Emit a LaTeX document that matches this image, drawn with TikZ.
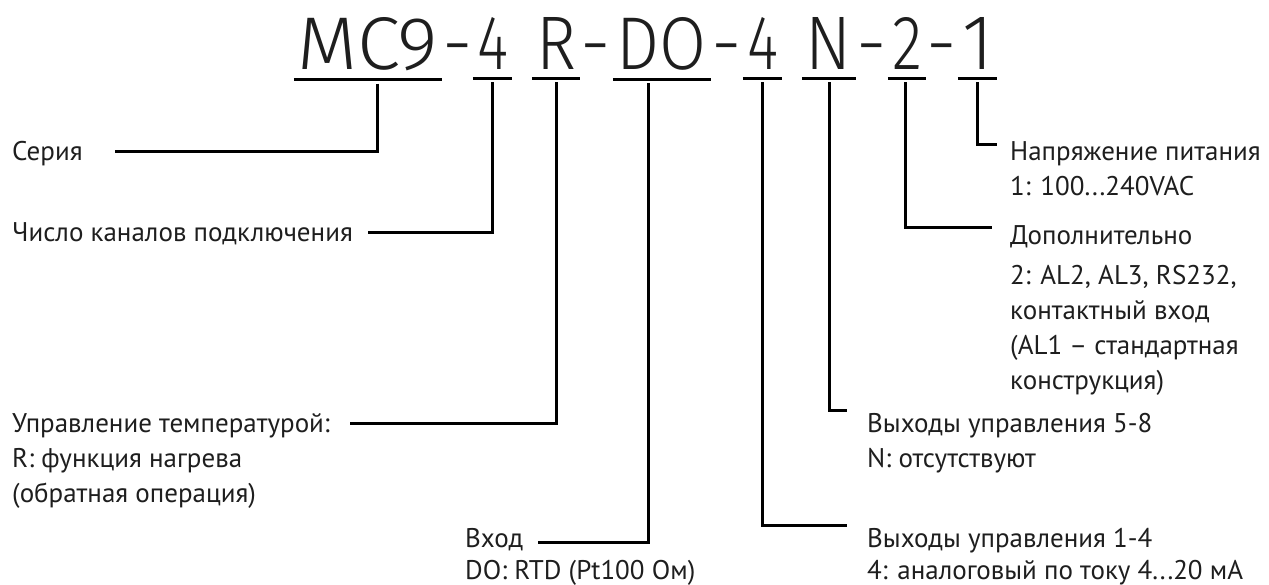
\documentclass[tikz,border=0pt]{standalone}
\usepackage{fontspec}
\setmainfont{PT Sans}
\newfontfamily\ttlfont{Fira Sans Light}
\definecolor{txt}{HTML}{1E1E1E}
\begin{document}
\begin{tikzpicture}[x=1pt,y=-1pt,
  conn/.style={line width=3pt, line join=miter, draw=black},
  uline/.style={line width=3pt, draw=black},
  ttl/.style={inner xsep=4pt, inner ysep=0pt, anchor=base, text=txt, font=\ttlfont},
  hy/.style={inner sep=0pt, anchor=base, text=txt, font=\ttlfont\fontsize{76}{76}\selectfont},
  lbl/.style={inner sep=0pt, anchor=base west, align=left, text=txt, font=\fontsize{27}{35}\selectfont}]
\useasboundingbox (0,0) rectangle (1269,585);

% title segments
\node[ttl] (t1) at (368,70)   {\resizebox{140pt}{52pt}{MC9}};
\node[hy]  (h1) at (458,70)   {-};
\node[ttl] (t2) at (492.5,70) {\resizebox{31pt}{52pt}{4}};
\node[ttl] (t3) at (556,70)   {\resizebox{40pt}{52pt}{R}};
\node[hy]  (h2) at (596,70)   {-};
\node[ttl] (t4) at (662,70)   {\resizebox{90pt}{52pt}{DO}};
\node[hy]  (h3) at (727,70)   {-};
\node[ttl] (t5) at (762.5,70) {\resizebox{31pt}{52pt}{4}};
\node[ttl] (t6) at (829,70)   {\resizebox{46pt}{52pt}{N}};
\node[hy]  (h4) at (872,70)   {-};
\node[ttl] (t7) at (907,70)   {\resizebox{30pt}{52pt}{2}};
\node[hy]  (h5) at (942,70)   {-};
\node[ttl] (t8) at (977.5,70) {\resizebox{31pt}{52pt}{1}};

\foreach \t in {t1,t2,t3,t4,t5,t6,t7,t8}
  \draw[uline] ([yshift=-8pt]\t.south west) -- ([yshift=-8pt]\t.south east);

% left labels (multi-line nodes: base = last line)
\node[lbl] (ser)  at (12,161) {Серия};
\node[lbl] (chis) at (12,242) {Число каналов подключения};
\node[lbl] (upr)  at (12,432) {Управление температурой:};
\node[lbl] (uprd) at ([yshift=-70pt]upr.base west) {R: функция нагрева\\(обратная операция)};
\node[lbl] (vhod) at (465,547) {Вход};
\node[lbl] (vhodd) at ([yshift=-32pt]vhod.base west) {DO: RTD (Pt100 Ом)};

% right labels
\node[lbl] (nap)  at (1010,161) {Напряжение питания};
\node[lbl] (napd) at ([yshift=-35pt]nap.base west) {1: 100...240VAC};
\node[lbl] (dop)  at (1010,245) {Дополнительно};
\node[lbl] (dopd) at ([yshift=-144pt]dop.base west) {2: AL2, AL3, RS232,\\контактный вход\\(AL1 – стандартная\\конструкция)};
\node[lbl] (v58)  at (867,432) {Выходы управления 5-8};
\node[lbl] (v58d) at ([yshift=-35pt]v58.base west) {N: отсутствуют};
\node[lbl] (v14)  at (867,547) {Выходы управления 1-4};
\node[lbl] (v14d) at ([yshift=-32pt]v14.base west) {4: аналоговый по току 4...20 мА};

% connectors
\draw[conn] ([xshift=9pt,yshift=-12pt]t1.south)  |- ([xshift=32pt,yshift=9pt]ser.base east);
\draw[conn] ([yshift=-12pt]t2.south)              |- ([xshift=15pt,yshift=9pt]chis.base east);
\draw[conn] ([yshift=-12pt]t3.south)              |- ([xshift=20pt,yshift=9pt]upr.base east);
\draw[conn] ([xshift=-14pt,yshift=-12pt]t4.south) |- ([xshift=15pt,yshift=5pt]vhod.base east);
\draw[conn] ([yshift=-12pt]t5.south)              |- ([xshift=-20pt,yshift=22pt]v14.base west);
\draw[conn] ([yshift=-12pt]t6.south)              |- ([xshift=-20pt,yshift=22pt]v58.base west);
\draw[conn] ([xshift=-2pt,yshift=-12pt]t7.south)  |- ([xshift=-18pt,yshift=17pt]dop.base west);
\draw[conn] ([yshift=-12pt]t8.south)              |- ([xshift=-13pt,yshift=16pt]nap.base west);
\end{tikzpicture}
\end{document}
